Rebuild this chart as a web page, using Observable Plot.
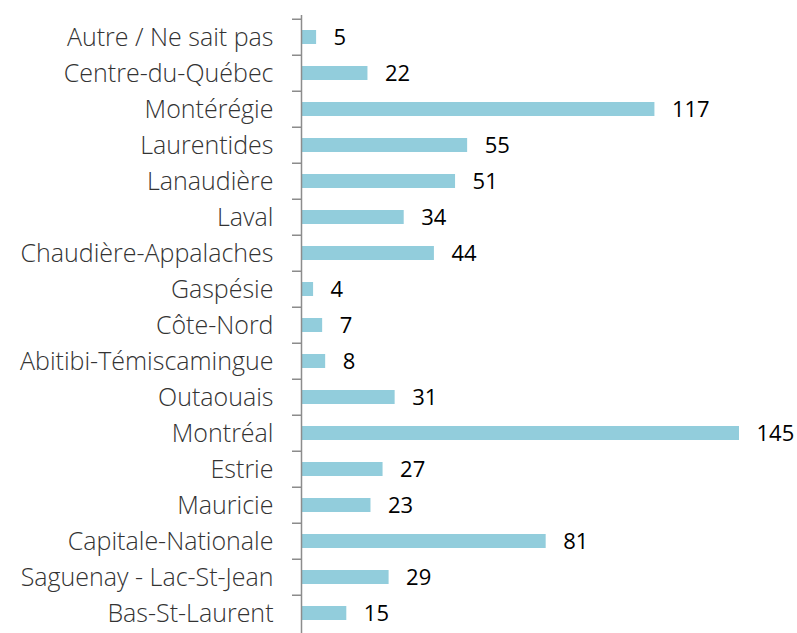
<!DOCTYPE html>
<html>
<head>
<meta charset="utf-8">
<script src="https://cdn.jsdelivr.net/npm/d3@7"></script>
<script src="https://cdn.jsdelivr.net/npm/@observablehq/plot@0.6"></script>
<style>
  html, body { margin: 0; padding: 0; background: #fff; }
  #chart svg { display: block; }
</style>
</head>
<body>
<div id="chart"></div>
<script>
const regions = [
  "Autre / Ne sait pas", "Centre-du-Québec", "Montérégie", "Laurentides", "Lanaudière",
  "Laval", "Chaudière-Appalaches", "Gaspésie", "Côte-Nord", "Abitibi-Témiscamingue",
  "Outaouais", "Montréal", "Estrie", "Mauricie", "Capitale-Nationale",
  "Saguenay - Lac-St-Jean", "Bas-St-Laurent"
];
const counts = [5, 22, 117, 55, 51, 34, 44, 4, 7, 8, 31, 145, 27, 23, 81, 29, 15];

const data = regions.map((r, i) => ({region: r, count: counts[i]}));

const W = 797, H = 633;
const marginLeft = 301, marginRight = 58, marginTop = 15, marginBottom = 0;
const yTop = 15, yBottom = 636;
const step = (yBottom - yTop) / regions.length;
const pxPerUnit = (W - marginLeft - marginRight) / 145;

const chart = Plot.plot({
  width: W,
  height: H,
  marginLeft, marginRight, marginTop, marginBottom,
  style: {fontFamily: "'Open Sans', sans-serif", fontSize: "22px", background: "#fff", overflow: "hidden"},
  x: {domain: [0, 145], axis: null},
  y: {domain: regions, range: [yTop, yBottom], paddingInner: 0.6, paddingOuter: 0.3, axis: null, label: null},
  marks: [
    Plot.barX(data, {x: "count", y: "region", fill: "#92cddc"}),
    Plot.ruleX([0], {stroke: "#8c8c8c", strokeWidth: 1.5}),
    Plot.ruleY(regions, {y: d => d, x1: -9 / pxPerUnit, x2: 0, dy: -step / 2, stroke: "#8c8c8c", strokeWidth: 1.5}),
    Plot.axisY({tickSize: 0, tickPadding: 28, fontSize: 25, fontWeight: 300, fill: "#333", label: null}),
    Plot.text(data, {x: "count", y: "region", text: d => String(d.count), textAnchor: "start", dx: 17, fontSize: 22, fill: "#000"})
  ]
});

document.getElementById("chart").appendChild(chart);
</script>
</body>
</html>
